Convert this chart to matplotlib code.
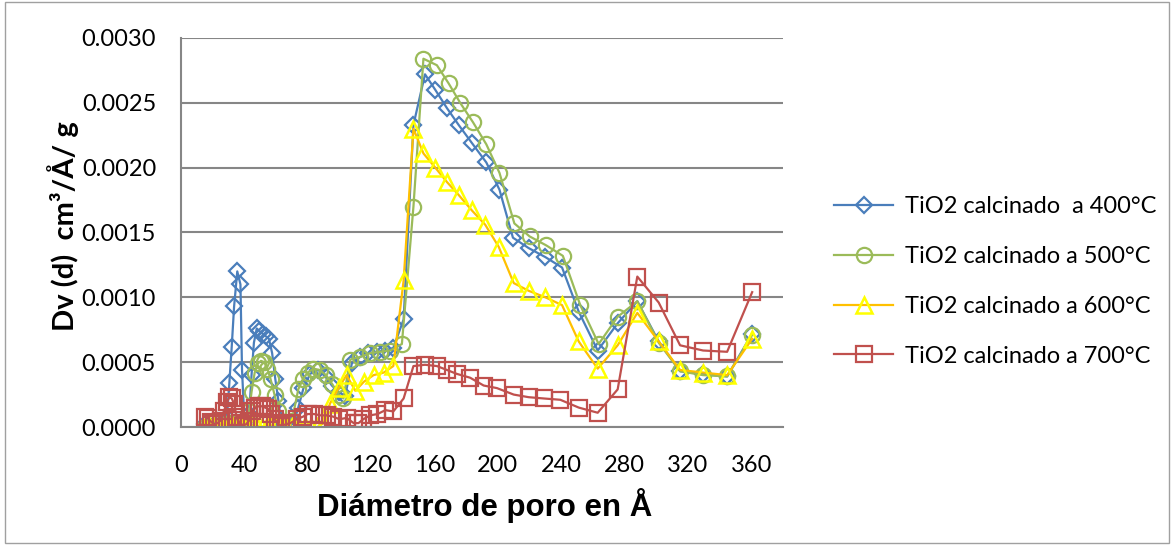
import numpy as np
import matplotlib.pyplot as plt
from matplotlib.patches import Rectangle

# diametro de poro (A) y Dv(d) para cada temperatura
x400 = [15, 17, 19, 21, 23, 25, 27, 29, 30.5, 32, 33.5, 35.5, 37.5, 38.5, 40, 41.5, 43, 44.5, 46, 47.8,
        49.5, 51.5, 53.5, 55.5, 57.5, 59.5, 61.5, 63, 65, 68, 71, 74, 77.3, 81.5, 86.7, 91, 95.2, 99.4,
        103.6, 107.8, 113, 118.3, 123.6, 128.9, 134, 140.5, 146.7, 154, 160.5, 167.8, 175.2, 183.6,
        192.7, 201, 209.5, 219.4, 230, 240.5, 251, 263, 275.6, 288, 301.5, 315, 329.5, 344.7, 360.5]
y400 = [0.00002, 0.0, 0.0, 0.00001, 0.0, 0.00002, 0.00003, 0.00008, 0.00034, 0.00062, 0.00093, 0.0012,
        0.0011, 0.00044, 0.00005, 0.00002, 0.0001, 0.0004, 0.00065, 0.00076, 0.00074, 0.00072, 0.0007,
        0.00068, 0.00057, 0.00037, 0.0002, 0.00005, 0.00002, 0.00001, 0.00003, 0.00015, 0.0003, 0.00041,
        0.00044, 0.00039, 0.00032, 0.00027, 0.00024, 0.00049, 0.00054, 0.00057, 0.00058, 0.00059, 0.00061,
        0.00083, 0.00233, 0.00272, 0.0026, 0.00246, 0.00233, 0.00219, 0.00204, 0.00183, 0.00146, 0.00138,
        0.00131, 0.00123, 0.00089, 0.00059, 0.0008, 0.00097, 0.00066, 0.00043, 0.00041, 0.00039, 0.00072]

x500 = [15, 17, 19, 21, 23, 25, 27, 29, 31, 33, 35, 37, 39, 41, 43, 44.5, 46.5, 48.5, 50.5, 52.5, 54.5,
        56.5, 59, 61.5, 64, 67, 70, 74, 77, 80, 83.5, 87.5, 91.5, 95.5, 99.5, 102.5, 106.8, 113, 119.4,
        125.7, 132, 139.4, 146.7, 153, 161.5, 168.9, 176.2, 184.3, 192.7, 201, 210.4, 220, 230.6, 241,
        252, 263.6, 275.6, 288, 301.5, 315, 329.5, 344.7, 360.5]
y500 = [0.0, 0.0, 0.0, 0.0, 0.00001, 0.0, 0.00001, 0.00002, 0.00003, 0.00002, 0.00004, 0.00003, 0.00002,
        0.00005, 0.00012, 0.00027, 0.00042, 0.00049, 0.00051, 0.0005, 0.00045, 0.00037, 0.00025, 0.00012,
        0.00003, 0.00001, 0.00005, 0.00029, 0.00037, 0.00042, 0.00045, 0.00044, 0.0004, 0.00033, 0.00025,
        0.00022, 0.00052, 0.00054, 0.00057, 0.00058, 0.00059, 0.00064, 0.0017, 0.00284, 0.00279, 0.00265,
        0.0025, 0.00235, 0.00218, 0.00196, 0.00157, 0.00147, 0.0014, 0.00132, 0.00094, 0.00064, 0.00085,
        0.00097, 0.00065, 0.00043, 0.0004, 0.00039, 0.00071]

x600 = [15, 18, 21, 24, 27, 30, 33, 36, 39, 42, 45, 48, 51, 54, 57, 60, 63, 66, 70, 74, 78, 82, 86, 90,
        94, 99.4, 104.5, 110, 115.5, 121.5, 128, 134, 140.5, 146.7, 153, 160.5, 167.8, 175.2, 183.6, 192,
        200.5, 210, 219.5, 230, 240.5, 251, 263, 275.6, 288, 301.5, 315, 329.5, 344.7, 360.5]
y600 = [0.0, 0.0, 0.00001, 0.0, 0.0, 0.00001, 0.0, 0.0, 0.00001, 0.0, 0.0, 0.00001, 0.0, 0.00001, 0.0,
        0.0, 0.0, 0.00001, 0.0, 0.0, 0.00001, 0.0, 0.0, 0.00003, 0.00018, 0.0003, 0.0004, 0.00028, 0.00035,
        0.0004, 0.00042, 0.00047, 0.00113, 0.0023, 0.00211, 0.002, 0.00189, 0.00179, 0.00167, 0.00156,
        0.00139, 0.00111, 0.00105, 0.001, 0.00094, 0.00066, 0.00045, 0.00063, 0.00088, 0.00066, 0.00044,
        0.00042, 0.0004, 0.00068]

x700 = [15, 17, 19, 21, 23, 25, 27, 29, 30.5, 32, 33.5, 35, 37, 39, 41, 43, 45, 47, 49, 51, 53, 55, 57,
        59, 61, 63, 66, 69, 73, 77, 80, 84, 88, 92, 96, 100, 104.5, 109, 112, 115, 119.4, 124, 129, 134,
        140.5, 146.7, 154, 161.5, 167.8, 174, 182.5, 191, 199.4, 210, 219.4, 229, 239.4, 251, 263, 275.6,
        288, 301.5, 315, 329.5, 344.7, 360.5]
y700 = [0.00008, 0.00007, 0.00004, 0.00002, 0.00003, 0.00005, 0.00012, 0.00019, 0.00023, 0.00022,
        0.00018, 0.00008, 0.00003, 0.00001, 0.00002, 0.00005, 0.00012, 0.00015, 0.00016, 0.00016, 0.00015,
        0.00014, 0.0001, 0.00006, 0.00003, 0.00001, 0.00002, 0.00003, 0.00006, 0.00008, 0.0001, 0.0001,
        0.00009, 0.00009, 0.00008, 0.00006, 0.00007, 0.00003, 0.00003, 0.00006, 0.00009, 0.0001, 0.00013,
        0.00012, 0.00022, 0.00047, 0.00048, 0.00047, 0.00044, 0.00041, 0.00038, 0.00032, 0.0003, 0.00025,
        0.00023, 0.00022, 0.00021, 0.00015, 0.00011, 0.00029, 0.00116, 0.00096, 0.00063, 0.00059, 0.00058,
        0.00104]

labels = ["TiO2 calcinado  a 400°C", "TiO2 calcinado a 500°C",
          "TiO2 calcinado a 600°C", "TiO2 calcinado a 700°C"]

plt.rcParams['font.family'] = ['Lato', 'DejaVu Sans']

fig = plt.figure(figsize=(11.74, 5.45), dpi=100)
ax = fig.add_axes([0.1542, 0.2165, 0.5128, 0.7138])

ax.plot(x400, y400, color='#4A7EBB', lw=1.6, marker='D', ms=8.5, mfc='none', mec='#4A7EBB', mew=1.6,
        label=labels[0])
ax.plot(x500, y500, color='#9BBB59', lw=1.6, marker='o', ms=11, mfc='none', mec='#9BBB59', mew=1.6,
        label=labels[1])
ax.plot(x600, y600, color='#FFC000', lw=1.6, marker='^', ms=11, mfc='none', mec='#FFFF00', mew=1.8,
        label=labels[2])
ax.plot(x700, y700, color='#C0504D', lw=1.6, marker='s', ms=11.5, mfc='none', mec='#C0504D', mew=1.6,
        label=labels[3])

ax.set_xlim(0, 380)
ax.set_ylim(0, 0.003)
ax.set_xticks(np.arange(0, 361, 40))
ax.set_yticks(np.arange(0, 0.00301, 0.0005))
ax.set_yticklabels(["%.4f" % v for v in np.arange(0, 0.00301, 0.0005)])
ax.tick_params(length=0, labelsize=17, pad=18)
ax.tick_params(axis='x', pad=20)
ax.grid(axis='y', color='#868686', lw=1.5)
ax.set_axisbelow(True)
for s in ['top', 'right']:
    ax.spines[s].set_visible(False)
for s in ['left', 'bottom']:
    ax.spines[s].set_color('#868686')
    ax.spines[s].set_linewidth(1.5)

fig.text(0.413, 0.073, "Diámetro de poro en Å", ha='center', va='center', fontsize=22.5,
         fontweight='bold', family=['Liberation Sans', 'DejaVu Sans'])
fig.text(0.0537, 0.585, "Dv (d)  cm³/Å/ g", ha='center', va='center', rotation=90, fontsize=21,
         fontweight='bold')

ax.legend(loc='upper left', bbox_to_anchor=(0.7105, 0.64), bbox_transform=fig.transFigure,
          frameon=False, fontsize=17, handlelength=2.5, handletextpad=0.5, labelspacing=1.22,
          borderpad=0, borderaxespad=0)

fig.patches.append(Rectangle((0.004, 0.004), 0.992, 0.992, transform=fig.transFigure, fill=False,
                             edgecolor='#A0A0A0', lw=1))

plt.savefig("out.png", dpi=100)
